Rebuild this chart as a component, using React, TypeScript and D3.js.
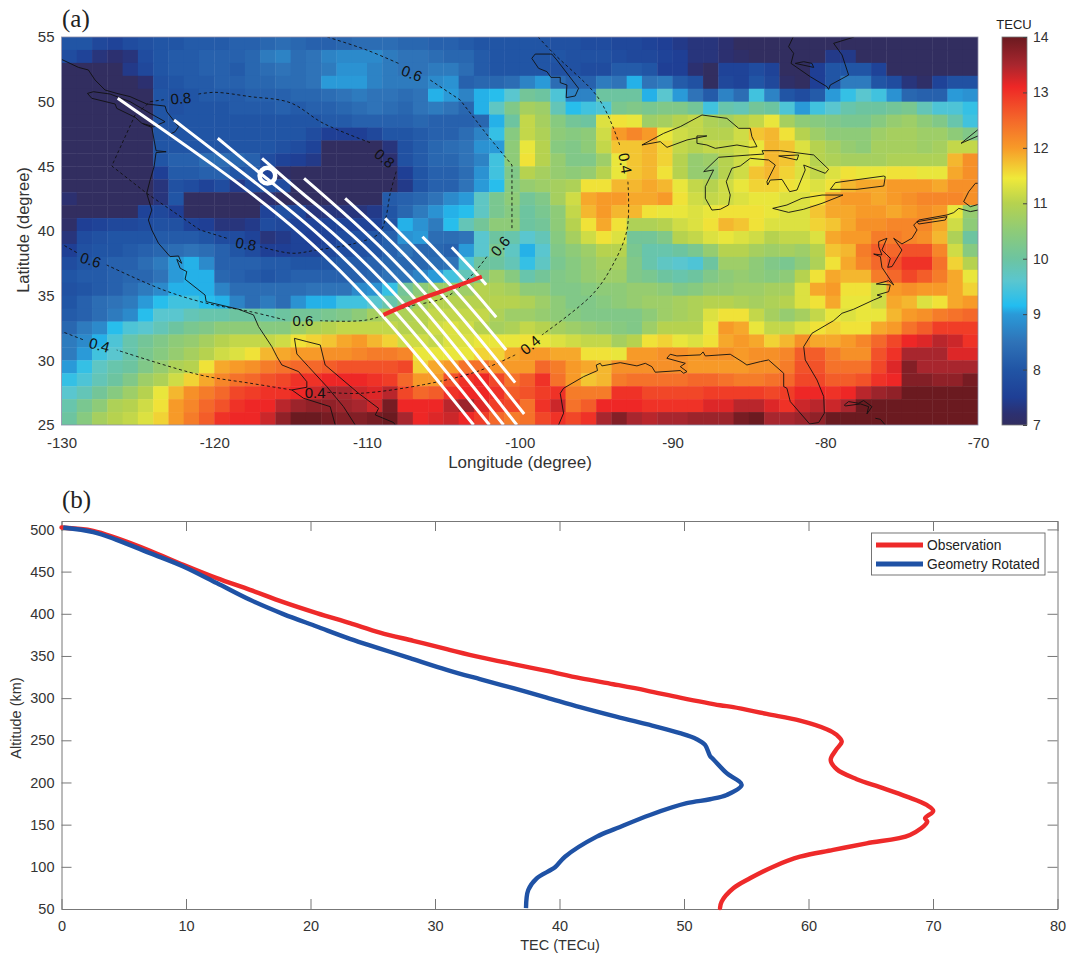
import { useEffect, useRef } from "react"
import * as d3 from "d3"

// TEC map, rows from 55N down to 25N, columns from 130W to 70W, 1 degree cells
const tecRows: number[][] = [
  [8.0,8.0,7.7,7.6,7.8,7.9,8.0,8.0,8.1,8.1,8.1,8.2,8.2,8.3,8.4,8.3,8.2,8.2,8.3,8.4,8.4,8.4,8.3,8.3,8.2,8.2,8.1,8.0,8.0,8.0,8.0,8.0,7.9,7.9,7.8,7.8,7.7,7.7,7.6,7.5,7.4,7.3,7.3,7.2,7.0,7.0,7.0,7.0,7.0,7.0,7.0,7.0,7.0,7.0,7.0,7.0,7.0,7.0,7.0,7.0],
  [7.8,7.6,7.3,7.2,7.3,7.8,8.0,8.1,8.1,8.2,8.2,8.2,8.3,8.6,8.7,8.4,8.5,8.7,8.8,8.8,8.8,8.6,8.5,8.5,8.4,8.3,8.3,8.1,8.0,8.0,8.0,8.0,8.0,7.9,7.9,7.9,7.8,7.7,7.7,7.6,7.5,7.3,7.3,7.2,7.1,7.0,7.0,7.0,7.0,7.0,7.4,7.4,7.0,7.0,7.0,7.0,7.0,7.0,7.0,7.0],
  [7.0,7.0,7.0,7.0,7.4,7.7,8.0,8.1,8.1,8.2,8.2,8.1,8.3,8.4,8.5,8.4,8.5,8.6,8.9,8.9,8.7,8.6,8.5,8.5,8.6,8.6,8.4,8.1,8.0,8.0,8.0,8.0,7.9,7.9,7.8,7.8,8.1,8.1,8.0,7.5,7.5,7.2,7.0,7.6,7.6,7.8,7.6,7.0,7.0,7.5,8.0,8.0,8.0,7.6,7.0,7.0,7.0,7.0,7.0,7.0],
  [7.0,7.0,7.0,7.0,7.0,7.2,7.9,8.0,8.1,8.1,8.2,8.2,8.3,8.3,8.4,8.4,8.5,9.0,9.0,9.0,8.7,8.6,8.6,8.6,8.8,8.9,8.2,8.3,8.3,8.4,8.7,9.0,8.4,8.2,8.2,8.6,8.5,9.1,8.5,8.6,8.1,7.9,7.0,7.7,7.6,8.0,7.7,7.1,7.0,7.5,8.0,8.6,8.6,8.0,7.8,7.3,7.1,7.6,7.9,7.9],
  [7.0,7.0,7.0,7.0,7.0,7.0,8.0,7.9,8.0,8.1,8.1,8.1,8.2,8.2,8.2,8.3,8.3,8.4,8.5,8.6,8.5,8.5,8.4,8.5,9.1,9.0,8.7,9.1,9.2,9.6,10.1,10.0,9.5,8.7,8.7,10.0,10.0,10.0,9.1,9.6,9.0,8.5,8.1,8.7,8.4,9.4,8.7,8.0,7.8,8.1,9.0,9.3,9.6,9.4,8.9,8.3,8.2,8.2,9.0,8.9],
  [7.0,7.0,7.0,7.0,7.0,7.0,8.0,7.9,8.0,8.0,8.0,8.1,8.1,8.1,8.2,8.1,8.2,8.2,8.3,8.4,8.5,8.4,8.3,8.5,8.6,8.5,8.3,9.1,9.7,10.3,10.8,10.7,9.8,9.2,9.4,9.5,10.2,10.3,10.2,10.3,10.3,10.1,9.4,9.9,9.8,10.1,10.0,9.5,9.0,9.4,9.6,9.9,10.0,10.0,10.1,10.2,9.8,9.5,9.5,9.3],
  [7.0,7.0,7.0,7.0,7.0,7.0,8.0,8.0,8.0,8.0,8.0,8.0,8.0,8.0,8.0,8.0,8.0,8.1,8.1,8.2,8.2,8.2,8.2,8.3,8.2,8.2,8.2,8.3,9.1,10.0,11.1,10.8,10.4,10.1,10.0,11.3,11.5,11.4,10.7,10.8,11.0,11.1,10.9,10.8,11.0,11.1,11.4,10.8,10.5,10.4,10.3,10.2,10.2,10.4,10.6,10.7,10.5,10.3,9.9,9.4],
  [7.0,7.0,7.0,7.0,7.0,7.0,8.0,8.0,8.0,8.0,8.0,8.0,8.0,8.0,8.0,8.0,7.8,7.5,7.5,7.5,7.7,8.0,8.0,8.1,8.2,8.2,8.4,8.7,9.3,10.4,11.1,10.9,10.5,10.4,10.5,11.2,12.0,12.2,12.0,11.4,11.2,11.1,11.0,11.0,11.2,11.7,11.8,11.5,11.0,10.7,10.5,10.5,10.5,10.7,10.8,10.8,10.7,10.7,10.5,10.3],
  [7.0,7.0,7.0,7.0,7.0,7.0,8.0,8.0,8.0,8.0,8.0,8.0,8.0,8.0,7.9,7.8,7.6,7.0,7.0,7.0,7.0,7.3,7.9,8.1,8.3,8.4,8.5,8.9,9.0,10.5,11.4,11.0,10.4,10.3,10.5,11.1,11.7,11.7,11.8,11.6,11.1,11.0,11.1,11.1,11.2,11.4,11.8,11.7,11.3,11.0,10.8,10.6,10.5,10.8,10.8,10.8,10.7,10.8,11.1,11.1],
  [7.0,7.0,7.0,7.0,7.0,7.0,8.0,8.2,8.2,8.4,8.4,8.3,8.2,7.8,7.6,7.5,7.4,7.0,7.0,7.0,7.0,7.2,7.9,8.1,8.3,8.3,8.5,8.7,9.4,10.5,11.5,11.0,10.6,10.3,10.3,10.7,11.4,11.7,11.8,11.6,11.0,10.6,10.7,11.0,11.2,11.4,11.8,11.7,11.3,11.0,10.9,10.8,10.8,10.8,10.9,10.9,10.9,10.9,11.8,12.1],
  [7.0,7.0,7.0,7.0,7.0,7.0,7.5,8.1,8.1,8.2,8.2,8.0,8.1,7.6,7.1,7.0,7.0,7.0,7.0,7.0,7.0,7.0,7.5,8.0,8.2,8.2,8.4,8.9,9.4,10.3,11.0,10.8,10.6,10.5,10.6,11.0,11.4,11.7,11.8,11.5,11.0,10.6,10.6,11.0,11.2,11.7,11.8,11.6,11.3,11.1,11.3,11.5,11.4,11.4,11.5,11.5,11.4,11.4,11.9,12.1],
  [7.0,7.0,7.0,7.0,7.0,7.0,7.3,7.9,7.8,7.6,7.8,7.4,7.8,7.9,7.8,7.0,7.0,7.0,7.0,7.0,7.0,7.0,7.4,8.0,8.2,8.2,8.5,9.0,9.2,10.4,10.6,10.7,10.8,10.9,11.5,11.5,11.8,11.8,11.9,11.8,11.4,11.1,11.0,11.2,11.4,11.6,11.6,11.5,11.4,11.3,11.5,11.8,11.9,11.9,12.0,12.0,12.0,11.9,12.1,12.1],
  [7.2,7.0,7.0,7.0,7.0,7.0,7.3,8.0,7.0,7.0,7.0,7.0,7.0,7.2,7.0,7.0,7.0,7.0,7.0,7.0,7.0,8.1,8.2,8.3,8.5,8.8,9.0,9.7,10.2,10.5,10.1,10.3,10.8,11.2,11.9,12.0,12.0,11.9,11.9,12.0,11.5,11.2,11.1,11.2,11.3,11.4,11.4,11.3,11.3,11.5,11.9,12.0,12.0,11.9,12.0,12.1,12.2,12.2,12.2,12.1],
  [7.0,7.0,7.0,7.0,7.0,7.6,7.7,7.5,7.0,7.0,7.0,7.0,7.0,7.6,7.9,7.7,7.3,7.3,7.3,7.3,7.4,8.0,8.3,8.6,8.9,9.1,9.2,9.7,10.2,10.4,10.0,10.2,10.5,11.1,11.8,12.0,11.8,11.8,11.5,11.4,11.4,11.3,11.4,11.5,11.5,11.5,11.4,11.3,11.3,11.7,11.9,11.9,12.0,12.0,11.9,12.0,12.1,12.0,11.4,10.6],
  [7.1,7.5,7.6,7.7,7.7,7.8,7.9,7.9,7.6,7.5,7.3,7.3,7.4,7.8,7.7,7.6,7.6,7.6,7.6,7.6,7.6,8.0,9.1,8.9,8.6,9.2,9.8,10.1,10.5,10.5,10.0,10.1,10.5,11.0,11.5,11.9,11.5,10.9,10.9,11.0,11.2,11.3,11.5,11.8,11.7,11.5,11.3,11.3,11.3,11.6,11.7,11.9,12.1,12.1,12.2,12.2,12.2,11.9,11.2,10.5],
  [7.3,7.8,7.9,8.0,8.0,8.0,8.1,8.1,8.1,8.0,7.8,7.8,7.6,7.3,7.4,7.6,7.5,7.6,7.8,7.9,8.0,8.2,8.9,9.0,8.4,8.4,8.5,9.6,10.0,9.9,9.6,9.8,10.4,10.8,11.2,11.5,11.3,10.1,10.1,10.3,11.0,11.1,11.3,11.4,11.3,11.2,11.0,11.1,11.1,11.3,11.9,12.0,12.0,12.3,12.3,12.2,12.1,11.8,10.9,10.0],
  [7.5,7.9,8.0,8.0,8.1,8.2,8.3,8.4,8.5,8.4,8.2,8.0,7.8,7.5,7.5,7.6,7.6,7.7,7.8,7.9,8.0,8.2,8.5,8.3,8.3,8.2,9.0,9.6,10.2,9.7,9.1,9.6,10.3,10.5,10.7,11.0,11.0,10.2,9.9,9.9,10.0,10.2,10.6,11.0,11.0,10.8,10.7,10.8,10.7,11.0,11.7,11.8,12.3,12.6,12.5,12.7,12.7,12.2,11.2,10.4],
  [7.8,8.0,8.1,8.2,8.2,8.4,8.6,9.0,9.1,8.8,8.2,8.2,8.2,8.1,8.1,8.0,8.0,8.0,8.1,8.1,8.2,8.3,8.3,8.3,8.4,8.5,9.5,10.0,10.0,9.8,9.3,9.7,10.2,10.4,10.6,10.8,10.8,10.3,9.9,9.7,9.6,9.5,10.0,10.7,10.7,10.5,10.3,10.2,10.5,10.9,11.5,11.9,12.2,12.5,12.7,13.0,13.0,12.4,11.6,11.0],
  [8.0,8.1,8.1,8.2,8.3,8.3,8.5,9.0,9.1,9.1,8.3,8.2,8.1,8.0,8.1,8.2,8.2,8.2,8.2,8.2,8.3,8.5,8.5,8.7,9.0,9.4,9.8,10.3,10.7,10.4,9.9,10.1,10.3,10.4,10.6,10.7,10.7,10.3,10.2,10.0,9.9,10.0,10.3,10.5,10.6,10.5,10.4,10.5,11.0,11.5,11.9,11.8,11.8,12.3,12.5,12.8,12.6,12.3,11.9,11.4],
  [7.9,8.0,8.1,8.2,8.4,8.6,8.8,9.1,9.1,9.1,8.7,8.4,8.4,8.4,8.4,8.4,8.5,8.5,8.5,8.8,8.9,9.3,10.1,10.5,10.7,10.7,10.7,11.0,10.9,10.8,10.5,10.5,10.3,10.3,10.4,10.5,10.5,10.6,10.6,10.5,10.3,10.4,10.6,10.6,10.7,10.7,10.8,10.8,11.3,11.9,12.0,11.5,11.5,11.2,12.0,12.1,12.0,12.0,11.9,11.6],
  [8.0,8.2,8.4,8.5,8.6,9.0,9.2,9.4,9.4,9.2,9.1,8.7,8.4,8.6,8.4,8.9,9.1,9.1,9.4,9.4,9.6,9.9,10.3,10.8,11.0,11.0,11.0,11.0,11.0,11.0,10.9,10.7,10.5,10.3,10.3,10.4,10.5,10.6,10.7,10.7,10.8,10.9,11.0,11.0,10.9,10.8,10.9,11.0,11.3,11.5,11.9,11.4,11.4,11.2,11.9,11.8,11.3,11.5,11.9,12.0],
  [8.1,8.2,8.4,8.6,8.8,9.2,9.6,9.6,9.8,9.9,9.9,10.0,10.0,9.9,10.0,10.1,10.1,10.2,10.3,10.5,10.8,10.9,10.9,11.0,11.1,11.1,11.1,11.1,10.9,10.7,10.7,10.6,10.5,10.4,10.3,10.3,10.3,10.3,10.5,10.7,10.8,10.9,11.3,11.5,11.5,11.1,10.8,10.6,10.8,11.1,11.4,11.3,11.4,11.4,11.8,12.0,12.1,12.3,12.4,12.5],
  [8.3,8.6,8.8,9.2,9.5,9.6,9.8,10.0,10.2,10.3,10.5,10.5,10.5,10.4,10.4,10.7,10.9,11.0,11.1,11.1,11.1,11.1,11.0,11.0,11.2,11.3,11.2,11.0,10.8,10.9,11.1,11.0,10.8,10.7,10.6,10.5,10.4,10.3,10.7,11.0,11.0,11.0,11.4,12.0,11.9,11.4,11.1,11.1,11.3,11.5,11.6,11.5,11.5,11.9,12.0,12.4,12.6,12.9,12.9,12.9],
  [8.6,8.8,9.1,9.5,9.9,10.1,10.3,10.5,10.6,10.8,11.0,11.1,11.1,11.1,11.2,11.5,11.6,11.7,11.9,12.0,11.8,11.6,11.2,11.2,11.1,11.3,11.3,11.4,11.4,11.4,11.5,11.4,11.3,11.2,11.1,11.1,10.8,11.0,11.5,11.6,11.4,11.3,11.5,11.9,12.0,11.9,11.6,11.8,12.1,11.9,11.9,12.0,12.2,12.5,12.8,13.1,13.2,13.4,13.3,13.0],
  [8.6,9.0,9.4,9.6,9.9,10.2,10.4,10.6,10.8,11.0,11.2,11.3,11.5,11.8,11.9,12.0,12.0,12.1,12.1,12.2,12.3,12.3,12.2,11.4,11.4,11.4,11.4,11.6,11.6,11.9,12.0,12.0,11.9,11.9,11.5,11.5,11.4,12.0,12.0,12.1,12.1,12.0,12.1,12.1,12.0,12.1,12.1,12.2,12.6,12.6,12.3,12.1,12.1,12.7,13.0,13.5,13.5,13.5,13.2,13.2],
  [9.0,9.3,9.7,9.9,10.0,10.3,10.6,10.9,11.0,11.5,11.9,12.0,12.1,12.3,12.4,12.5,12.5,12.6,12.7,12.7,12.7,12.7,12.8,11.6,11.9,12.0,12.4,12.4,12.1,12.0,12.0,12.5,12.3,12.0,11.9,11.8,12.1,12.1,12.1,12.1,12.1,12.0,12.0,12.0,12.0,12.1,12.1,12.3,12.7,12.7,12.4,12.4,12.4,12.8,13.2,13.8,13.5,13.5,13.5,13.5],
  [9.3,9.5,9.8,10.0,10.3,10.7,10.9,11.2,11.6,11.9,12.2,12.4,12.5,12.7,12.8,13.0,13.0,13.1,13.1,13.1,13.0,12.9,12.5,12.0,12.0,12.7,13.0,13.1,12.8,12.4,12.6,13.0,12.4,12.0,11.7,11.8,12.3,12.4,12.4,12.4,12.4,12.5,12.5,12.4,12.3,12.3,12.4,12.5,12.8,12.8,12.6,12.6,12.7,13.0,13.1,13.8,13.8,13.7,13.7,13.9],
  [9.6,9.8,10.1,10.4,10.7,11.0,11.4,11.8,12.1,12.3,12.5,12.8,12.9,13.0,13.0,13.1,13.3,13.5,13.5,13.3,13.2,13.4,12.8,12.5,12.6,13.0,13.1,13.1,13.0,12.6,12.7,12.9,13.0,12.3,12.3,12.3,13.0,13.0,12.8,12.8,12.8,12.8,12.9,12.9,12.9,12.9,12.8,12.9,13.1,13.1,13.0,13.1,13.4,13.6,13.7,14,14,14,14,14],
  [9.9,10.2,10.5,10.9,11.0,11.2,11.5,12.0,12.2,12.5,12.7,13.0,13.1,13.1,13.4,13.6,13.7,13.7,13.6,13.5,13.3,13.9,13.1,13.1,13.1,13.4,13.6,13.2,12.9,12.8,12.4,13.0,13.3,12.4,12.6,13.1,13.1,13.1,13.0,13.0,13.0,13.0,13.2,13.2,13.4,13.4,13.2,13.0,13.3,13.4,13.3,13.5,14,14,14,14,14,14,14,14],
  [10.0,10.4,10.8,11.0,11.1,11.3,11.6,12.0,12.3,12.6,13.0,13.1,13.1,13.3,13.7,14,14,13.9,13.8,13.8,13.9,14,13.5,13.1,13.2,13.3,13.1,12.9,12.5,12.3,12.4,12.8,13.0,12.8,13.0,13.5,13.8,13.5,13.4,13.5,13.5,13.6,13.6,13.6,13.9,14,13.5,13.5,13.6,13.7,14,14,14,14,14,14,14,14,14,14],
]

const colorStops = [7, 7.2, 7.5, 8, 8.5, 9, 9.15, 9.6, 10, 10.5, 11, 11.45, 12, 12.5, 13.1, 13.5, 14]
const colorValues = ["#322e60", "#2c3070", "#1f3f95", "#2155a5", "#2f73b8", "#2a9ad8", "#22bdf0", "#5ac6cf", "#6dc4a0", "#8ecb78", "#b6d24f", "#efe93a", "#f79a28", "#f4682a", "#ee2726", "#a8262e", "#6b1a20"]

const coastWest = [[-130,53.27],[-129.44,52.96],[-128.89,52.65],[-128.24,52.45],[-127.8,51.67],[-127.15,50.9],[-126.38,50.64],[-125.51,50.39],[-124.42,49.82],[-123.22,49.66],[-123.11,49.23],[-122.34,48.07],[-122.56,47.68],[-122.93,47.47]]
const vancouverIsland = [[-128.3,50.64],[-127.91,50.77],[-126.82,50.59],[-125.51,50.0],[-124.2,49.1],[-123.22,48.45],[-123.98,48.07],[-124.74,48.33],[-125.18,48.79],[-126.38,49.48],[-126.49,49.82],[-128.02,50.26],[-128.3,50.64]]
const coastPacific = [[-124.64,48.27],[-124.09,48.01],[-123.94,47.04],[-123.81,46.21],[-123.15,46.13],[-123.81,46.06],[-123.94,44.97],[-124.2,43.94],[-124.42,42.91],[-124.09,41.62],[-124.31,40.85],[-124.09,40.08],[-123.65,39.05],[-122.89,38.02],[-122.34,38.07],[-122.13,37.5],[-122.45,37.81],[-122.23,37.12],[-121.8,36.86],[-121.91,36.27],[-120.6,35.05],[-120.53,34.54],[-118.41,33.95],[-117.43,33.51],[-117.1,32.61],[-116.23,31.06],[-115.9,30.29],[-115.57,29.64],[-114.48,29.13],[-113.94,28.35],[-113.94,27.92],[-114.92,27.71],[-114.16,27.07],[-112.41,26.42],[-112.08,25]]
const gulfCalifornia = [[-110.77,25],[-111.54,26.42],[-112.63,27.97],[-113.83,29.51],[-114.59,30.49],[-114.75,31.7],[-113.94,31.45],[-113.06,31.19],[-112.74,29.64],[-110.55,27.45],[-109.24,26.29],[-109.46,25.78],[-108.26,25.19],[-108.15,25]]
const lakeWinnipeg = [[-99.21,53.35],[-98.99,53.68],[-97.9,53.68],[-97.57,53.22],[-96.15,51.03],[-96.37,50.44],[-96.96,50.31],[-96.91,51.29],[-97.35,51.47],[-97.35,51.88],[-97.96,51.88],[-98.22,52.32],[-98.77,52.58],[-99.21,53.35]]
const jamesBay = [[-82.1,55],[-82.4,54.25],[-82.07,53.74],[-82.24,52.96],[-80.98,51.93],[-79.89,51.16],[-79.78,50.95],[-79.67,51.29],[-78.47,52.06],[-78.9,53.61],[-79.45,54.51],[-78.1,55]]
const akimiski = [[-81.96,52.96],[-81.41,53.09],[-80.87,52.96],[-80.76,52.65],[-81.96,52.96]]
const lakeSuperior = [[-92,46.65],[-90.58,47.55],[-89.49,48.07],[-88.07,48.97],[-86.44,48.71],[-85.67,47.94],[-84.91,47.94],[-84.8,47.29],[-84.47,46.52],[-84.91,46.47],[-85.78,46.65],[-87.2,46.39],[-87.75,46.65],[-88.4,46.78],[-88.4,47.35],[-87.75,47.35],[-89.05,47.04],[-90.36,46.47],[-90.8,46.91],[-92,46.65]]
const lakeMichiganHuron = [[-87.96,44.59],[-86.98,45.7],[-84.91,45.88],[-84.03,45.95],[-84.14,46.21],[-82.94,46.21],[-80.76,45.88],[-79.78,44.77],[-80,44.46],[-81.41,45.1],[-81.31,44.72],[-81.85,43.17],[-82.33,43.04],[-82.83,43.99],[-83.6,43.94],[-83.77,43.56],[-83.82,43.81],[-83.27,45.1],[-83.71,45.49],[-84.91,45.62],[-85.56,45.03],[-86.11,44.85],[-86.48,43.81],[-86.22,42.78],[-86.33,42.01],[-86.87,41.68],[-87.42,41.62],[-87.85,42.53],[-87.85,43.43],[-87.31,44.72],[-87.96,44.59]]
const manitoulin = [[-83.05,45.8],[-81.74,45.88],[-81.85,45.49],[-83.05,45.8]]
const lakeOntario = [[-79.67,43.22],[-79.34,43.74],[-76.17,44.25],[-76.07,44.2],[-76.17,43.48],[-77.92,43.22],[-79.67,43.22]]
const lakeErie = [[-83.44,41.75],[-82.51,42.01],[-81.52,42.53],[-80.21,42.78],[-78.84,42.78],[-80.21,42.14],[-81.41,41.68],[-82.4,41.44],[-83.44,41.75]]
const stLawrence = [[-70,47.84],[-71.11,46.78],[-70,47.35]]
const capeCod = [[-70,43.69],[-70.17,43.69],[-70.61,43.04],[-70.94,42.27],[-70.5,41.88],[-70,42.05]]
const coastEast = [[-70,41.62],[-70.5,41.5],[-71.26,41.75],[-71.59,41.42],[-72.03,41.24],[-73.88,40.85],[-74.21,40.46],[-73.99,40.08],[-74.32,39.44],[-74.98,39],[-75.52,39.44],[-74.98,38.53],[-75.63,37.25],[-75.91,37.19],[-75.74,37.89],[-76.29,38.53],[-75.96,39.44],[-76.5,39.18],[-76.5,38.79],[-76.29,38.15],[-76.83,38.22],[-76.39,38.02],[-76.29,37.19],[-75.52,35.83],[-75.85,36.16],[-76.66,35.9],[-75.74,35.83],[-75.85,35.31],[-76.61,35.05],[-76.29,34.93],[-76.83,34.67],[-78.14,33.95],[-78.9,33.64],[-79.45,33.07],[-80.87,32.09],[-81.41,31.06],[-81.31,30.03],[-80.54,28.48],[-80.1,27.2],[-80.06,25.91],[-80.43,25.19],[-81.02,25.08],[-82.29,26.81],[-82.51,27.84],[-82.72,27.97],[-82.72,29],[-83.71,30.03],[-84.25,29.9],[-85.13,29.64],[-85.45,29.9],[-86.22,30.47],[-87.85,30.34],[-88,30.65],[-88.18,30.42],[-89.71,30.34],[-90.15,30.47],[-90.37,30.16],[-89.16,29.77],[-89.49,29.51],[-89.05,29.13],[-89.27,29],[-89.49,29.21],[-91.13,29.08],[-91.35,29.51],[-91.78,29.77],[-92.33,29.57],[-93.42,29.82],[-94.62,29.57],[-94.73,29.77],[-94.99,29.64],[-94.91,29.21],[-95.82,28.74],[-97.13,27.84],[-97.35,27.45],[-97.13,25.91],[-97.46,25]]
const longIsland = [[-73.99,40.72],[-72.03,41.11],[-72.14,40.85],[-73.88,40.54],[-73.99,40.72]]
const bahamasA = [[-78.75,26.55],[-78.47,26.81],[-77.81,26.68],[-77.49,26.89],[-76.94,26.42],[-77.27,25.86],[-77.16,26.42],[-77.7,26.63],[-78.69,26.47],[-78.75,26.55]]
const bahamasB = [[-76.72,25.52],[-76.39,25.44],[-76.07,25]]
const coastlines = [coastWest, vancouverIsland, coastPacific, gulfCalifornia, lakeWinnipeg, jamesBay, akimiski, lakeSuperior, lakeMichiganHuron, manitoulin, lakeOntario, lakeErie, stLawrence, capeCod, coastEast, longIsland, bahamasA, bahamasB]

// dashed contours, split where a label sits
const contour08a = [[-124.2,50],[-123.3,50.15]]
const contour08b = [[-121.04,50.59],[-119.94,50.72],[-117.65,50.39],[-115.03,49.92],[-112.85,48.32],[-109.68,46.78]]
const contour08c = [[-108.09,44.59],[-108.48,42.91],[-108.81,40.85],[-109.25,39.77],[-110.77,39.05],[-113.29,38.53],[-114.92,38.28],[-116.99,38.79]]
const contour08d = [[-119.18,39.44],[-120.93,40.08],[-124.42,42.91],[-126.71,45.03],[-125.18,48.97],[-124.2,50]]
const contour06a = [[-112.6,55],[-110.01,53.99],[-107.94,52.96]]
const contour06b = [[-105.86,51.67],[-103.9,50.13],[-102.04,47.29],[-100.51,45.1],[-100.51,40.08]]
const contour06c = [[-102.15,38.02],[-103.03,36.73],[-104.77,34.93],[-107.5,34.1],[-110.01,33.12],[-113.07,33.07]]
const contour06d = [[-115.36,33.12],[-117.65,33.77],[-120.49,34.41],[-123.33,35.44],[-127.04,37.37]]
const contour06e = [[-129,38.33],[-129.96,38.97]]
const contour04a = [[-98.8,55],[-97.79,53.74],[-95.17,50.77],[-94.51,49.61],[-93.86,47.94],[-93.42,46.52]]
const contour04b = [[-92.92,43.81],[-92.98,40.08],[-93.97,37.25],[-95.28,35.05],[-98.55,31.96]]
const contour04c = [[-100.3,30.42],[-102.81,29.13],[-106.3,28.12],[-110.45,27.45],[-112.63,27.53]]
const contour04d = [[-114.92,27.71],[-117.65,28.23],[-120.93,28.87],[-126.38,30.8]]
const contour04e = [[-128.6,31.6],[-129.96,32.22]]
const contours = [contour08a, contour08b, contour08c, contour06a, contour06c, contour06d, contour06e, contour04a, contour04b, contour04c, contour04d, contour04e]
const cornerContours = [contour08d, contour06b]

const labelLon = [-122.19, -108.85, -117.93, -107.06, -101.28, -114.2, -128.09, -93.09, -99.32, -113.4, -127.52]
const labelLat = [50.26, 45.62, 39.0, 52.19, 38.84, 33.07, 37.76, 45.23, 31.19, 27.53, 31.19]
const labelText = ["0.8", "0.8", "0.8", "0.6", "0.6", "0.6", "0.6", "0.4", "0.4", "0.4", "0.4"]
const labelAngle = [-5, 40, 10, 20, -50, 0, 18, 80, -40, 0, 15]

const path1 = [[-126.32,50.26],[-119.83,44.97],[-114.38,40.08],[-108.92,33.64],[-103.02,25]]
const path2 = [[-122.63,48.58],[-118.53,44.85],[-113.29,40.08],[-108.11,33.95],[-101.98,25]]
const path3 = [[-119.77,47.17],[-116.89,44.33],[-112.3,40.08],[-107.35,34.36],[-101.06,25]]
const path4 = [[-116.87,45.62],[-114.16,42.78],[-111.21,40.08],[-106.61,34.72],[-100.19,25]]
const path5 = [[-114.12,44.07],[-110.23,40.08],[-105.91,35.08],[-99.71,25.85]]
const path6 = [[-111.43,42.53],[-109.14,40.08],[-105.21,35.42],[-100.3,28.28]]
const path7 = [[-108.81,40.98],[-108.05,40.08],[-104.38,35.75],[-100.89,30.8]]
const path8 = [[-106.37,39.56],[-103.55,36.14],[-101.54,33.33]]
const path9 = [[-104.45,38.74],[-102.63,36.47],[-102.2,35.83]]
const rayPaths = [path1, path2, path3, path4, path5, path6, path7, path8, path9]
const redArc = [[-108.92,33.51],[-107.61,34.2],[-106.08,34.93],[-104.23,35.7],[-102.48,36.47]]
const station = [-116.52, 44.28]

const obsTec = [0,2.55,4.43,7.11,9.78,12.47,15.14,17.82,20.5,23.17,25.58,28.26,30.94,33.6,36.29,38.97,41.65,44.32,47,49.68,52.89,53.96,56.64,59.32,61.46,62.27,62.67,62.21,61.78,62.27,63.87,65.74,67.89,69.49,70.02,69.36,69.54,68.15,64.67,61.99,59.32,57.17,55.3,53.96,53.02,52.89]
const obsAlt = [502.3,498.4,489.7,474.7,458.1,442.3,428.4,413.8,400.8,388.9,377.8,367.9,358.1,348.6,340.3,332.3,323.7,316.5,309,300.7,291.6,289.3,281.3,273.4,263.2,256.4,248.5,238.6,226.7,215.7,203.9,194.4,183.2,173.4,166.3,157.6,153.6,137.8,127.9,120,112,100.2,86.4,74.6,58.7,51]
const geoTec = [0.14,2.55,4.43,7.11,9.78,12.47,15.14,17.82,20.5,23.17,25.58,27.99,30.94,33.6,36.29,38.97,41.65,44.32,47,49.68,51.02,51.69,52.09,52.35,53.43,54.63,53.43,52.09,50.22,47.27,44.59,42.99,40.44,39.64,38.17,37.49,37.31]
const geoAlt = [502.3,496.9,487.7,471.9,456.1,436.4,416.5,399.6,384.9,370.3,358.8,347.4,333.5,322.5,311.8,300.6,289.3,278.9,269.1,258.4,251.3,244.5,231.5,227.6,211,197.1,185.2,180.1,175.4,161.5,145.7,135.8,112,99.5,86.4,72.5,51]
const legendLabels = ["Observation", "Geometry Rotated"]

const lonTicks = [-130, -120, -110, -100, -90, -80, -70]
const latTicks = [25, 30, 35, 40, 45, 50, 55]
const barTicks = [7, 8, 9, 10, 11, 12, 13, 14]
const tecTicks = [0, 10, 20, 30, 40, 50, 60, 70, 80]
const altTicks = [50, 100, 150, 200, 250, 300, 350, 400, 450, 500]

const SANS = "'Liberation Sans', Arial, sans-serif"
const INK = "#333333"
const AXIS = "#777777"
const OBS_RED = "#ee2a2a"
const GEO_BLUE = "#1f52a5"

const styleAxis = (g: any, size = 14.5) => {
  g.selectAll("path").attr("stroke", AXIS).attr("stroke-width", 1)
  g.selectAll("line").attr("stroke", AXIS).attr("stroke-width", 1)
  g.selectAll("text").attr("fill", INK).attr("font-family", SANS).attr("font-size", size)
}

const App = () => {
  const ref = useRef<SVGSVGElement>(null)

  useEffect(() => {
    const svg = d3.select(ref.current)
    svg.selectAll("*").remove()

    const color = d3.scaleLinear<string>().domain(colorStops).range(colorValues).clamp(true)
    const defs = svg.append("defs")

    // (a) map
    const x = d3.scaleLinear().domain([-130, -70]).range([61.5, 978])
    const y = d3.scaleLinear().domain([25, 55]).range([425, 37])

    defs.append("clipPath").attr("id", "map-clip")
      .append("rect").attr("x", 61.5).attr("y", 37).attr("width", 916.5).attr("height", 388)
    defs.append("filter").attr("id", "soft").attr("color-interpolation-filters", "sRGB")
      .append("feGaussianBlur").attr("stdDeviation", 0.6)

    const cells = tecRows.flatMap((row, i) => row.map((v, j) => ({ v, lon: -130 + j, lat: 55 - i })))
    svg.append("g").attr("clip-path", "url(#map-clip)").append("g").attr("filter", "url(#soft)")
      .selectAll("rect").data(cells).enter().append("rect")
      .attr("x", d => x(d.lon))
      .attr("y", d => y(d.lat))
      .attr("width", x(-129) - x(-130) + 0.4)
      .attr("height", y(54) - y(55) + 0.4)
      .attr("fill", d => color(d.v))

    const map = svg.append("g").attr("clip-path", "url(#map-clip)")
    const line = d3.line().x(d => x(d[0])).y(d => y(d[1]))
    const smooth = d3.line().x(d => x(d[0])).y(d => y(d[1])).curve(d3.curveCatmullRom.alpha(0.5))
    const basis = d3.line().x(d => x(d[0])).y(d => y(d[1])).curve(d3.curveBasis)

    map.selectAll("path.coast").data(coastlines).enter().append("path")
      .attr("class", "coast").attr("d", line as any)
      .attr("fill", "none").attr("stroke", "#111").attr("stroke-width", 0.9)

    map.selectAll("path.contour").data(contours).enter().append("path")
      .attr("class", "contour").attr("d", smooth as any)
      .attr("fill", "none").attr("stroke", "#111").attr("stroke-width", 0.9).attr("stroke-dasharray", "3 2.6")
    map.selectAll("path.corner").data(cornerContours).enter().append("path")
      .attr("class", "corner").attr("d", line as any)
      .attr("fill", "none").attr("stroke", "#111").attr("stroke-width", 0.9).attr("stroke-dasharray", "3 2.6")

    map.selectAll("text.clabel").data(labelText).enter().append("text")
      .attr("class", "clabel")
      .attr("transform", (_, i) => `translate(${x(labelLon[i])},${y(labelLat[i])}) rotate(${labelAngle[i]})`)
      .attr("text-anchor", "middle").attr("dy", "0.36em")
      .attr("font-family", SANS).attr("font-size", 15).attr("fill", "#111")
      .text(d => d)

    map.selectAll("path.ray").data(rayPaths).enter().append("path")
      .attr("class", "ray").attr("d", basis as any)
      .attr("fill", "none").attr("stroke", "#fff").attr("stroke-width", 3)

    map.append("path").datum(redArc).attr("d", smooth as any)
      .attr("fill", "none").attr("stroke", OBS_RED).attr("stroke-width", 4.2)

    map.append("circle").attr("cx", x(station[0])).attr("cy", y(station[1])).attr("r", 7.8)
      .attr("fill", "none").attr("stroke", "#fff").attr("stroke-width", 4.5)

    svg.append("rect").attr("x", 61.5).attr("y", 37).attr("width", 916.5).attr("height", 388)
      .attr("fill", "none").attr("stroke", "#8d8da8").attr("stroke-width", 0.8)

    const mapBottom = svg.append("g").attr("transform", "translate(0,425)")
      .call(d3.axisBottom(x).tickValues(lonTicks).tickFormat(d => String(d)).tickSize(0).tickPadding(12))
    mapBottom.select(".domain").remove()
    styleAxis(mapBottom, 15)
    const mapLeft = svg.append("g").attr("transform", "translate(61.5,0)")
      .call(d3.axisLeft(y).tickValues(latTicks).tickFormat(d => String(d)).tickSize(0).tickPadding(7))
    mapLeft.select(".domain").remove()
    styleAxis(mapLeft, 15)

    svg.append("text").attr("x", 520).attr("y", 467.5).attr("text-anchor", "middle")
      .attr("font-family", SANS).attr("font-size", 17).attr("fill", INK).text("Longitude (degree)")
    svg.append("text").attr("transform", "translate(29,230) rotate(-90)").attr("text-anchor", "middle")
      .attr("font-family", SANS).attr("font-size", 16.5).attr("fill", INK).text("Latitude (degree)")

    // colorbar
    const barY = d3.scaleLinear().domain([7, 14]).range([425, 37])
    const grad = defs.append("linearGradient").attr("id", "tec-bar")
      .attr("x1", 0).attr("x2", 0).attr("y1", 1).attr("y2", 0)
    colorStops.forEach((s, i) => {
      grad.append("stop").attr("offset", (s - 7) / 7).attr("stop-color", colorValues[i])
    })
    svg.append("rect").attr("x", 1002).attr("y", 37).attr("width", 25).attr("height", 388)
      .attr("fill", "url(#tec-bar)").attr("stroke", AXIS).attr("stroke-width", 0.8)
    const barAxis = svg.append("g").attr("transform", "translate(1027,0)")
      .call(d3.axisRight(barY).tickValues(barTicks).tickFormat(d => String(d)).tickSize(-4).tickPadding(6))
    barAxis.select(".domain").remove()
    styleAxis(barAxis, 14)
    barAxis.selectAll("line").attr("stroke", "#444")
    svg.append("text").attr("x", 1014).attr("y", 29).attr("text-anchor", "middle")
      .attr("font-family", SANS).attr("font-size", 13).attr("fill", "#222").text("TECU")

    // (b) profile
    const tx = d3.scaleLinear().domain([0, 80]).range([61.5, 1057.5])
    const ay = d3.scaleLinear().domain([50, 510]).range([909, 521])

    const bottom = svg.append("g").attr("transform", "translate(0,909)")
      .call(d3.axisBottom(tx).tickValues(tecTicks).tickSize(-10).tickSizeOuter(0).tickPadding(12))
    styleAxis(bottom)
    const left = svg.append("g").attr("transform", "translate(61.5,0)")
      .call(d3.axisLeft(ay).tickValues(altTicks).tickSize(-10).tickSizeOuter(0).tickPadding(7))
    styleAxis(left)
    const top = svg.append("g").attr("transform", "translate(0,521)")
      .call(d3.axisTop(tx).tickValues(tecTicks).tickSize(-10).tickSizeOuter(0).tickFormat(() => ""))
    styleAxis(top)
    const right = svg.append("g").attr("transform", "translate(1057.5,0)")
      .call(d3.axisRight(ay).tickValues(altTicks).tickSize(-10).tickSizeOuter(0).tickFormat(() => ""))
    styleAxis(right)

    const profile = d3.line<number>().x(d => tx(d)).curve(d3.curveCatmullRom.alpha(0.5))
    svg.append("path").attr("d", profile.y((_, i) => ay(obsAlt[i]))(obsTec))
      .attr("fill", "none").attr("stroke", OBS_RED).attr("stroke-width", 4.4).attr("stroke-linejoin", "round").attr("stroke-linecap", "round")
    svg.append("path").attr("d", profile.y((_, i) => ay(geoAlt[i]))(geoTec))
      .attr("fill", "none").attr("stroke", GEO_BLUE).attr("stroke-width", 4.4).attr("stroke-linejoin", "round")

    svg.append("text").attr("x", 560).attr("y", 950).attr("text-anchor", "middle")
      .attr("font-family", SANS).attr("font-size", 14.5).attr("fill", INK).text("TEC (TECu)")
    svg.append("text").attr("transform", "translate(21,718) rotate(-90)").attr("text-anchor", "middle")
      .attr("font-family", SANS).attr("font-size", 14.5).attr("fill", INK).text("Altitude (km)")

    // legend
    const legend = svg.append("g")
    legend.append("rect").attr("x", 871.5).attr("y", 533).attr("width", 173.5).attr("height", 42)
      .attr("fill", "#fff").attr("stroke", "#666").attr("stroke-width", 0.9)
    legendLabels.forEach((label, i) => {
      const ly = 545 + i * 19
      legend.append("line").attr("x1", 876).attr("x2", 923).attr("y1", ly).attr("y2", ly)
        .attr("stroke", i === 0 ? OBS_RED : GEO_BLUE).attr("stroke-width", 5)
      legend.append("text").attr("x", 927).attr("y", ly + 5)
        .attr("font-family", SANS).attr("font-size", 13.8).attr("fill", "#222").text(label)
    })

    svg.append("text").attr("x", 62).attr("y", 27).attr("font-family", "'Liberation Serif', serif")
      .attr("font-size", 25).attr("fill", "#222").text("(a)")
    svg.append("text").attr("x", 62).attr("y", 508).attr("font-family", "'Liberation Serif', serif")
      .attr("font-size", 25).attr("fill", "#222").text("(b)")
  }, [])

  return <svg ref={ref} width={1073} height={958} style={{ position: "absolute", left: 0, top: 0, background: "#fff" }} />
}

export default App
